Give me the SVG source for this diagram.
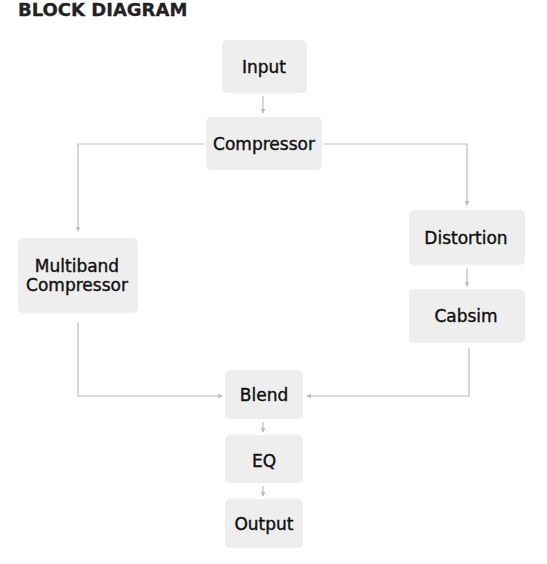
<svg xmlns="http://www.w3.org/2000/svg" width="547" height="564" viewBox="0 0 547 564">
<defs>
<style>
.node rect{fill:#eeeeee;}
.node text{font-family:"DejaVu Sans","Liberation Sans",sans-serif;font-size:17px;font-weight:normal;fill:#111;stroke:#111;stroke-width:0.4;text-anchor:middle;dominant-baseline:central;}
.title{font-family:"DejaVu Sans","Liberation Sans",sans-serif;font-size:18px;font-weight:bold;fill:#222;stroke:#222;stroke-width:0.3;}
.conn path{fill:none;stroke:#bdbdbd;stroke-width:1.2;marker-end:url(#arr);}
</style>
<marker id="arr" viewBox="0 0 6 6" refX="5" refY="3" markerWidth="4" markerHeight="4" orient="auto">
<path d="M0,0 L6,3 L0,6 z" fill="#bdbdbd"/>
</marker>
</defs>
<rect width="547" height="564" fill="#ffffff"/>
<text class="title" x="18" y="16">BLOCK DIAGRAM</text>
<g id="connectors" class="conn">
<path d="M263,96 V113"/>
<path d="M204,144 H78 V231"/>
<path d="M324,144 H467 V205"/>
<path d="M467,268 V286"/>
<path d="M78,322 V396 H222"/>
<path d="M469,348 V396 H307"/>
<path d="M263,422 V432"/>
<path d="M263,486 V496"/>
</g>
<g id="input" class="node"><rect x="222" y="40" width="85" height="53" rx="5"/><text x="264" y="67">Input</text></g>
<g id="compressor" class="node"><rect x="206" y="117" width="116" height="53" rx="5"/><text x="264" y="144">Compressor</text></g>
<g id="multiband" class="node"><rect x="18" y="238" width="120" height="75" rx="5"/><text x="77" y="266">Multiband</text><text x="77" y="285">Compressor</text></g>
<g id="distortion" class="node"><rect x="409" y="210" width="116" height="55" rx="5"/><text x="466" y="238">Distortion</text></g>
<g id="cabsim" class="node"><rect x="409" y="289" width="116" height="54" rx="5"/><text x="466" y="316">Cabsim</text></g>
<g id="blend" class="node"><rect x="225" y="370" width="78" height="49" rx="5"/><text x="264" y="395">Blend</text></g>
<g id="eq" class="node"><rect x="225" y="435" width="78" height="48" rx="5"/><text x="264" y="461">EQ</text></g>
<g id="output" class="node"><rect x="225" y="499" width="78" height="49" rx="5"/><text x="264" y="524">Output</text></g>
</svg>
